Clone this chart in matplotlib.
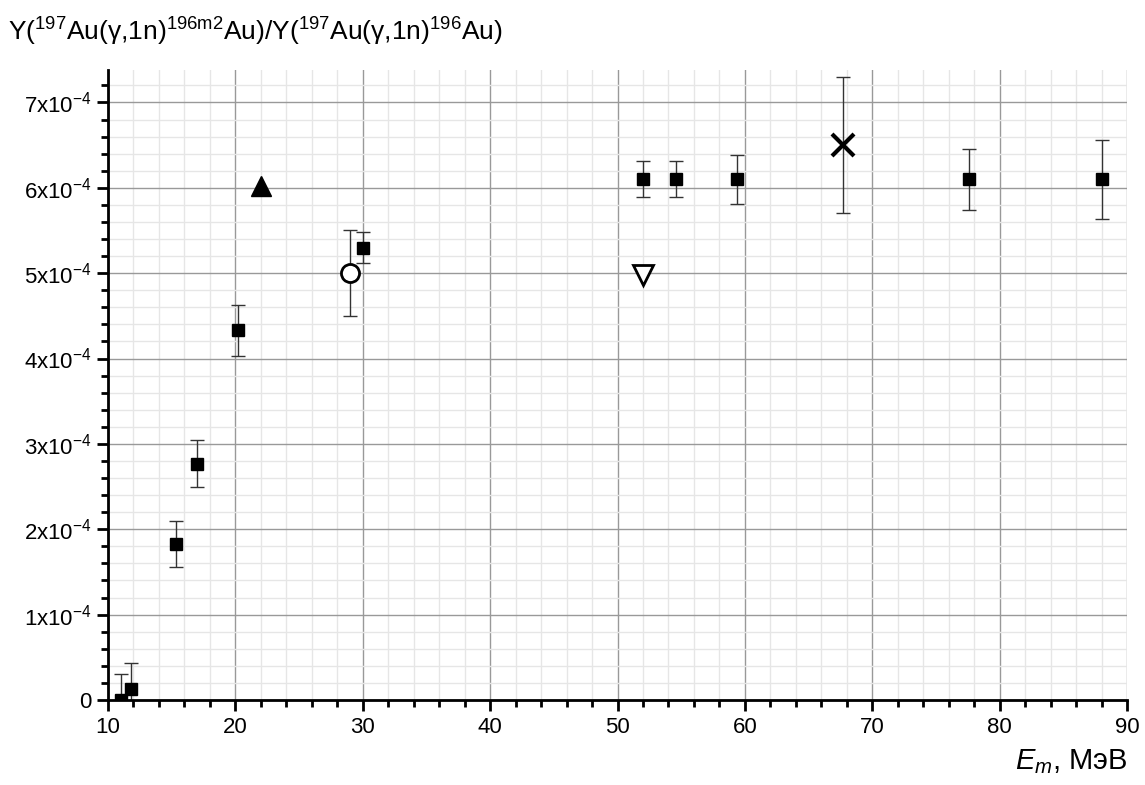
import matplotlib
matplotlib.use('Agg')
import matplotlib.pyplot as plt
from matplotlib.ticker import MultipleLocator, FixedLocator

plt.rcParams['font.family'] = ['Liberation Sans', 'DejaVu Sans']
plt.rcParams['mathtext.fontset'] = 'custom'
plt.rcParams['mathtext.rm'] = 'Liberation Sans'
plt.rcParams['mathtext.it'] = 'Liberation Sans:italic'

# Data (energies in MeV, ratios)
sq_x = [11.0, 11.8, 15.3, 17.0, 20.2, 30.0, 52.0, 54.6, 59.4, 77.6, 88.0]
sq_y = [0.0, 0.125e-4, 1.83e-4, 2.77e-4, 4.33e-4, 5.30e-4, 6.10e-4, 6.10e-4, 6.10e-4, 6.10e-4, 6.10e-4]
sq_err = [0.31e-4, 0.31e-4, 0.27e-4, 0.27e-4, 0.30e-4, 0.18e-4, 0.21e-4, 0.21e-4, 0.29e-4, 0.36e-4, 0.46e-4]

tri_x, tri_y = [22.0], [6.02e-4]
circ_x, circ_y, circ_err = [29.0], [5.0e-4], [0.5e-4]
dtri_x, dtri_y = [52.0], [4.98e-4]
cross_x, cross_y, cross_err = [67.7], [6.5e-4], [0.8e-4]

yticks = [0, 1e-4, 2e-4, 3e-4, 4e-4, 5e-4, 6e-4, 7e-4]
ytick_labels = ['0'] + ['%dx10$^{-4}$' % i for i in range(1, 8)]
xticks = [10, 20, 30, 40, 50, 60, 70, 80, 90]

fig = plt.figure(figsize=(11.45, 7.85), dpi=100)
ax = fig.add_axes([108 / 1145, 1 - 700 / 785, (1127 - 108) / 1145, (700 - 70) / 785])

ax.set_xlim(10, 90)
ax.set_ylim(0, 7.38e-4)

# grid
ax.xaxis.set_major_locator(FixedLocator(xticks))
ax.xaxis.set_minor_locator(MultipleLocator(2))
ax.yaxis.set_major_locator(FixedLocator(yticks))
ax.yaxis.set_minor_locator(MultipleLocator(0.2e-4))
ax.grid(True, which='major', color='#999999', lw=1.0, zorder=0)
ax.grid(True, which='minor', color='#e6e6e6', lw=1.0, zorder=0)
ax.set_axisbelow(True)

ax.set_yticklabels(ytick_labels)
ax.set_xticklabels([str(v) for v in xticks])

for s in ['top', 'right']:
    ax.spines[s].set_visible(False)
for s in ['left', 'bottom']:
    ax.spines[s].set_linewidth(2)
ax.tick_params(which='major', direction='out', length=8, width=2, labelsize=16, pad=4)
ax.tick_params(which='minor', direction='out', length=5, width=2)

# error bars first, markers on top
ekw = dict(fmt='none', ecolor='#333333', elinewidth=1.0, capsize=5, capthick=1.0, zorder=2)
ax.errorbar(sq_x, sq_y, yerr=sq_err, **ekw)
ax.errorbar(circ_x, circ_y, yerr=circ_err, **ekw)
ax.errorbar(cross_x, cross_y, yerr=cross_err, **ekw)

ax.plot(sq_x, sq_y, 's', color='black', ms=8, ls='none', zorder=4)
ax.plot(circ_x, circ_y, 'o', mfc='white', mec='black', mew=2, ms=13, zorder=4)
ax.plot(cross_x, cross_y, 'x', color='black', mew=3, ms=16, zorder=4)
ax.plot(tri_x, tri_y, '^', color='black', ms=15, zorder=4)
ax.plot(dtri_x, dtri_y, 'v', mfc='white', mec='black', mew=2, ms=14, zorder=4)

fig.text(8 / 1145, 1 - 32 / 785,
         r'Y($^{197}$Au(γ,1n)$^{\mathrm{196m2}}$Au)/Y($^{197}$Au(γ,1n)$^{196}$Au)',
         fontsize=19, ha='left', va='center')
fig.text(1127 / 1145, 1 - 762 / 785, r'$E_m$, МэВ', fontsize=21, ha='right', va='center')

fig.savefig('out.png', dpi=100)
